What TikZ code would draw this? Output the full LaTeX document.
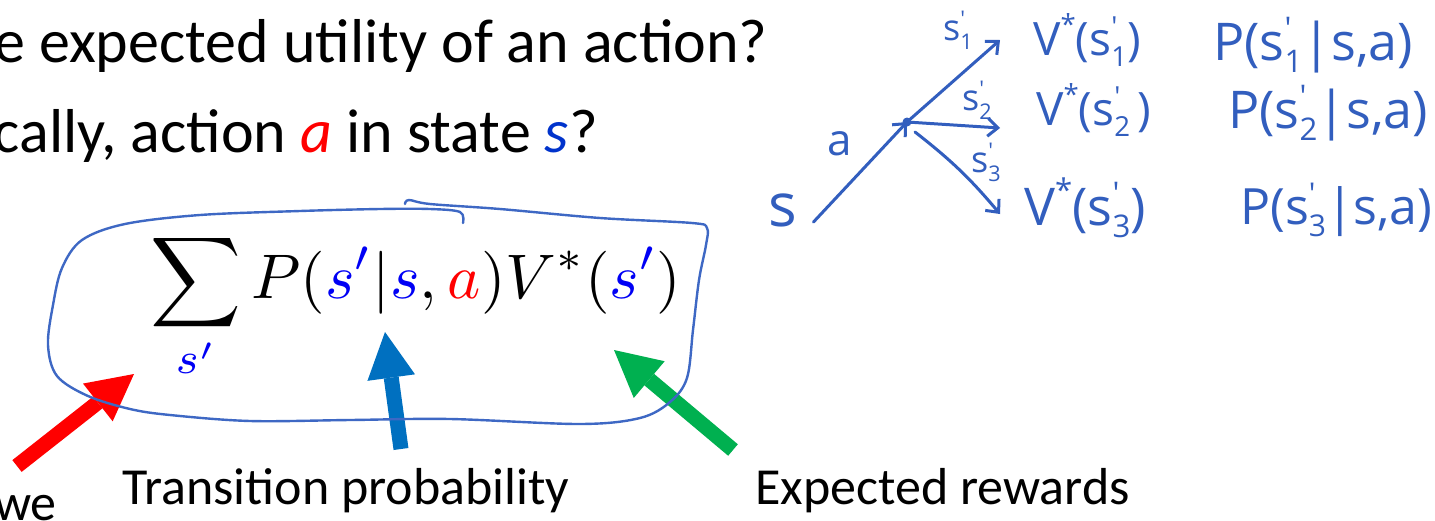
\documentclass[tikz,border=0pt]{standalone}
\usepackage{fontspec}
\usepackage{graphicx}
\usepackage{xcolor}
\usetikzlibrary{arrows.meta,positioning}
\setmainfont{Carlito}
\newfontfamily\hand{Open Sans}
\definecolor{inkblue}{RGB}{50,94,190}
\definecolor{blobblue}{RGB}{62,104,196}
\definecolor{varblue}{RGB}{0,0,245}
\definecolor{textblue}{RGB}{0,51,204}
\definecolor{arrowred}{RGB}{255,0,0}
\definecolor{arrowblue}{RGB}{0,112,192}
\definecolor{arrowgreen}{RGB}{0,176,80}
% primed successor state with index
\newcommand{\prsub}[1]{s\rlap{\raisebox{0.75ex}{\scalebox{0.6}{'}}}\raisebox{-0.45ex}{\scalebox{0.6}{#1}}}
\newcommand{\vstar}{V\raisebox{0.85ex}{\scalebox{0.6}{*}}}

\begin{document}
\begin{tikzpicture}[
        x=1pt, y=-1pt,
        slide/.style={font=\fontsize{62}{68}\selectfont, inner sep=0pt},
        caption/.style={font=\fontsize{52}{58}\selectfont, inner sep=0pt},
        handtext/.style={text=inkblue, font=\hand\fontsize{46}{50}\selectfont, inner sep=0pt},
        ink/.style={draw=inkblue, line width=3pt, line cap=round, line join=round},
        blob/.style={draw=blobblue, line width=2.4pt, line cap=round},
        pointer/.style={line width=15pt, -{Triangle[length=46pt,width=48pt,line width=0pt]}}
    ]
    \path[fill=white, use as bounding box] (0,0) rectangle (1435,520);

    % slide text
    \node[slide, anchor=base east] (q1) at (768,62) {e expected utility of an action?};
    \node[slide, anchor=base east] (q2) at (598,152) {cally, action \textit{\textcolor{arrowred}{a}} in state \textit{\textcolor{textblue}{s}}?};

    % formula
    \node[scale=6.3, inner sep=0pt, anchor=base west] (eq) at (149,298)
        {$\displaystyle\sum_{\textcolor{varblue}{s'}} P(\textcolor{varblue}{s'}|\textcolor{varblue}{s},\textcolor{arrowred}{a})V^*(\textcolor{varblue}{s'})$};

    % captions
    \node[caption, anchor=base east] (we) at (57,520) {we};
    \node[caption, anchor=base west] (trans) at (122,504) {Transition probability};
    \node[caption, anchor=base west] (rew) at (755,504) {Expected rewards};

    % pointers
    \coordinate (redtail) at (17,466);
    \coordinate (redtip) at (134,374);
    \coordinate (bluetail) at (401,449);
    \coordinate (bluetip) at (385,332);
    \coordinate (greentail) at (733,450);
    \coordinate (greentip) at (614,350);
    \draw[pointer, arrowred] (redtail) -- (redtip);
    \draw[pointer, arrowblue] (bluetail) -- (bluetip);
    \draw[pointer, arrowgreen] (greentail) -- (greentip);

    % hand-drawn loop round the sum
    \draw[blob] plot[smooth, tension=0.55] coordinates {(463,223) (460,212) (430,209) (380,209)
        (300,211) (200,215) (125,224) (82,240) (62,268) (53,305) (48,345) (57,376) (88,396)
        (130,409) (170,415) (250,421) (350,420) (450,419) (580,424) (640,418) (670,402)
        (687,378) (693,330) (699,280) (706,245) (707,228) (692,223) (600,218) (500,209)
        (430,204) (409,200) (405,204)};

    % tree
    \node[handtext, font=\hand\fontsize{60}{62}\selectfont] (s) at (783,210) {s};
    \coordinate (q) at (907,122);
    \coordinate (c1) at (1000,40);
    \coordinate (c2) at (1000,128);
    \coordinate (c3) at (1000,214);
    \fill[inkblue] (q) circle (4.5);
    \draw[ink, -{Straight Barb[length=10pt,width=18pt]}] ([shift={(16,12)}]s.east) -- (q);
    \draw[ink, -{Straight Barb[length=10pt,width=18pt]}] (q) -- (c1);
    \draw[ink, -{Straight Barb[length=10pt,width=18pt]}] (q) -- (c2);
    \draw[ink, -{Straight Barb[length=10pt,width=18pt]}] ([shift={(8,10)}]q) to[bend left=6] (c3);
    \node[handtext, font=\hand\fontsize{44}{48}\selectfont] (la) at (840,144) {a};
    \node[handtext, font=\hand\fontsize{36}{40}\selectfont] (l1) at (958,30) {\prsub{1}};
    \node[handtext, font=\hand\fontsize{36}{40}\selectfont] (l2) at (977,100) {\prsub{2}};
    \node[handtext, font=\hand\fontsize{36}{40}\selectfont] (l3) at (986,162) {\prsub{3}};

    \node[handtext, anchor=west] (v1) at (1033,40) {\vstar(\prsub{1})};
    \node[handtext, anchor=west] (v2) at (1036,110) {\vstar(\prsub{2}\,)};
    \node[handtext, anchor=west, font=\hand\fontsize{52}{56}\selectfont] (v3) at (1024,208) {\vstar(\prsub{3})};
    \node[handtext, anchor=west, font=\hand\fontsize{52}{56}\selectfont] (p1) at (1213,45) {P(\prsub{1}|s,a)};
    \node[handtext, anchor=west, font=\hand\fontsize{52}{56}\selectfont] (p2) at (1228,113) {P(\prsub{2}|s,a)};
    \node[handtext, anchor=west, font=\hand\fontsize{50}{54}\selectfont] (p3) at (1240,210) {P(\prsub{3}|s,a)};
\end{tikzpicture}
\end{document}
